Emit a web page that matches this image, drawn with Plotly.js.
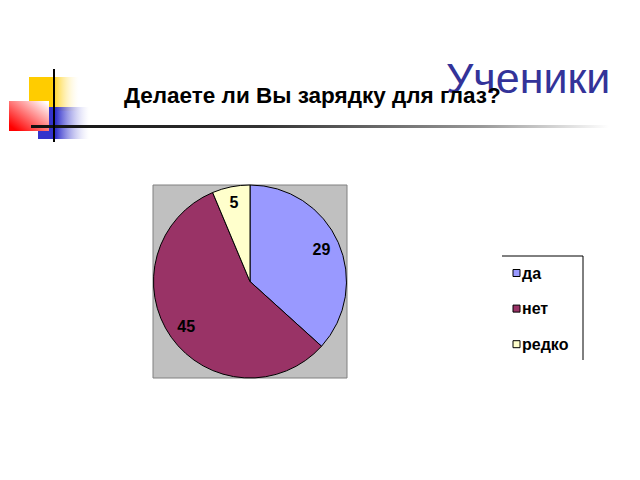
<!DOCTYPE html>
<html>
<head>
<meta charset="utf-8">
<script src="https://cdn.plot.ly/plotly-3.0.1.min.js"></script>
<style>
  html, body { margin: 0; padding: 0; background: #ffffff; }
  #plot { width: 640px; height: 480px; }
</style>
</head>
<body>
<div id="plot"></div>
<script>
// Survey answers
var answers = ['да', 'нет', 'редко'];
var counts = [29, 45, 5];
var sliceColors = ['#9999FF', '#993366', '#FFFFCC'];

var chartTitle = 'Делаете ли Вы зарядку для глаз?';
var slideTitle = 'Ученики';

// pixel -> paper helpers (margins are zero)
function px(x) { return x / 640; }
function py(y) { return 1 - y / 480; }

// slide decoration: gradient squares and the rule, as an svg background
var deco =
  '<svg xmlns="http://www.w3.org/2000/svg" width="640" height="480" viewBox="0 0 640 480">' +
  '<defs>' +
  '<linearGradient id="gy" x1="0" y1="0" x2="1" y2="0"><stop offset="0.45" stop-color="#FFCC00"/><stop offset="1" stop-color="#FFFFFF" stop-opacity="0.2"/></linearGradient>' +
  '<linearGradient id="gr" x1="0" y1="1" x2="1" y2="0"><stop offset="0.1" stop-color="#FF0000"/><stop offset="0.95" stop-color="#FFFFFF"/></linearGradient>' +
  '<linearGradient id="gb" x1="0" y1="0" x2="1" y2="0"><stop offset="0.35" stop-color="#3333CC"/><stop offset="1" stop-color="#FFFFFF" stop-opacity="0.3"/></linearGradient>' +
  '<linearGradient id="gl" x1="0" y1="0" x2="1" y2="0"><stop offset="0" stop-color="#111111"/><stop offset="0.4" stop-color="#333333"/><stop offset="0.78" stop-color="#999999"/><stop offset="1" stop-color="#FFFFFF"/></linearGradient>' +
  '</defs>' +
  '<rect x="29" y="77" width="50" height="34" fill="url(#gy)"/>' +
  '<rect x="38" y="107" width="51" height="32" fill="url(#gb)"/>' +
  '<rect x="9" y="101" width="40" height="30" fill="url(#gr)"/>' +
  '<rect x="31" y="125" width="578" height="3" fill="url(#gl)"/>' +
  '<rect x="53" y="69" width="2" height="73" fill="#000000"/>' +
  '</svg>';

var data = [
  {
    type: 'pie',
    labels: answers,
    values: counts,
    sort: false,
    direction: 'clockwise',
    rotation: 0,
    marker: { colors: sliceColors, line: { color: '#000000', width: 1 } },
    textinfo: 'none',
    hoverinfo: 'label+value',
    domain: { x: [px(153), px(347)], y: [py(378), py(185)] },
    showlegend: false
  },
  {
    // transparent ring just to place the value labels near the rim
    type: 'pie',
    labels: answers,
    values: counts,
    sort: false,
    direction: 'clockwise',
    rotation: 0,
    hole: 0.62,
    marker: { colors: ['rgba(0,0,0,0)', 'rgba(0,0,0,0)', 'rgba(0,0,0,0)'], line: { width: 0 } },
    textinfo: 'value',
    textposition: 'inside',
    insidetextorientation: 'horizontal',
    textfont: { family: 'Liberation Sans, Arial, sans-serif', size: 16, color: '#000000', weight: 'bold' },
    hoverinfo: 'skip',
    domain: { x: [px(153), px(347)], y: [py(378), py(185)] },
    showlegend: false
  }
];

var shapes = [
  // grey plot area behind the pie
  { type: 'rect', xref: 'paper', yref: 'paper', layer: 'below',
    x0: px(153), x1: px(347), y0: py(378), y1: py(185),
    fillcolor: '#C0C0C0', line: { color: '#808080', width: 1 } },
  // legend frame (only top and right edges show)
  { type: 'line', xref: 'paper', yref: 'paper',
    x0: px(502), x1: px(583), y0: py(256), y1: py(256),
    line: { color: '#000000', width: 1 } },
  { type: 'line', xref: 'paper', yref: 'paper',
    x0: px(583), x1: px(583), y0: py(256), y1: py(360),
    line: { color: '#000000', width: 1 } }
];

var annotations = [
  { text: slideTitle, xref: 'paper', yref: 'paper', x: px(444), y: py(78),
    xanchor: 'left', yanchor: 'middle', showarrow: false,
    font: { family: 'Liberation Sans, Arial, sans-serif', size: 43, color: '#333399' } },
  { text: chartTitle, xref: 'paper', yref: 'paper', x: px(122), y: py(96),
    xanchor: 'left', yanchor: 'middle', showarrow: false,
    font: { family: 'Liberation Sans, Arial, sans-serif', size: 22.5, color: '#000000', weight: 'bold' } }
];

// hand-made legend, one row per answer
for (var i = 0; i < answers.length; i++) {
  var cy = 273 + i * 35.6;
  shapes.push({ type: 'rect', xref: 'paper', yref: 'paper',
    x0: px(513), x1: px(520), y0: py(cy + 3.5), y1: py(cy - 3.5),
    fillcolor: sliceColors[i], line: { color: '#000000', width: 1 } });
  annotations.push({ text: answers[i], xref: 'paper', yref: 'paper',
    x: px(520), y: py(cy), xanchor: 'left', yanchor: 'middle', showarrow: false,
    font: { family: 'Liberation Sans, Arial, sans-serif', size: 16, color: '#000000', weight: 'bold' } });
}

var layout = {
  width: 640,
  height: 480,
  margin: { l: 0, r: 0, t: 0, b: 0, pad: 0 },
  paper_bgcolor: '#ffffff',
  showlegend: false,
  shapes: shapes,
  annotations: annotations,
  images: [{
    source: 'data:image/svg+xml;charset=utf-8,' + encodeURIComponent(deco),
    xref: 'paper', yref: 'paper', x: 0, y: 1, sizex: 1, sizey: 1,
    xanchor: 'left', yanchor: 'top', sizing: 'stretch', layer: 'below'
  }]
};

Plotly.newPlot('plot', data, layout, { displayModeBar: false, staticPlot: true });
</script>
</body>
</html>
